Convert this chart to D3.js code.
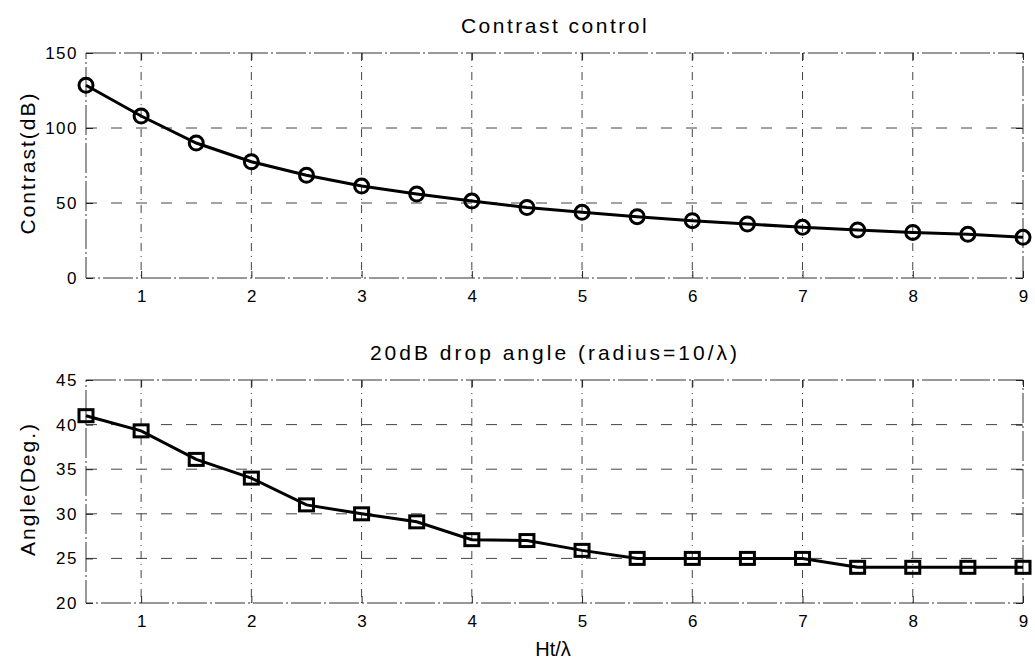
<!DOCTYPE html>
<html>
<head>
<meta charset="utf-8">
<script src="https://cdn.jsdelivr.net/npm/d3@7"></script>
<style>
  body { margin: 0; background: #fff; }
  svg { font-family: Arial, "Liberation Sans", sans-serif; }
</style>
</head>
<body>
<svg id="chart" width="1035" height="661"></svg>
<script>
"use strict";

const xs = [0.5, 1, 1.5, 2, 2.5, 3, 3.5, 4, 4.5, 5, 5.5, 6, 6.5, 7, 7.5, 8, 8.5, 9];
const contrast = [128.5, 108, 90, 77.5, 68.5, 61.3, 56, 51.3, 47, 43.8, 40.9, 38.2, 36, 33.8, 32, 30.4, 29.1, 27.1];
const angle = [41, 39.3, 36.1, 34, 31, 30, 29.1, 27.1, 27, 25.9, 25, 25, 25, 25, 24, 24, 24, 24];
const xTicks = [1, 2, 3, 4, 5, 6, 7, 8, 9];
const contrastTicks = [0, 50, 100, 150];
const angleTicks = [20, 25, 30, 35, 40, 45];

const svg = d3.select("#chart");
const left = 86, right = 1023;

const x = d3.scaleLinear().domain([0.5, 9]).range([left, right]);

function styleAxis(a) {
    a.select(".domain").remove();
    a.selectAll("line").attr("stroke", "#222");
    a.selectAll("text")
        .attr("font-size", 17).attr("fill", "#000")
        .attr("letter-spacing", 1.5);
}

function panel(opts) {
    const y = d3.scaleLinear().domain(opts.domain).range([opts.bottom, opts.top]);
    const g = svg.append("g");

    // grid
    g.selectAll(".gx").data(xTicks.slice(0, -1)).enter().append("line")
        .attr("x1", d => x(d)).attr("x2", d => x(d))
        .attr("y1", opts.top).attr("y2", opts.bottom)
        .attr("stroke", "#444").attr("stroke-width", 1)
        .attr("stroke-dasharray", "8,5,1,5");
    g.selectAll(".gy").data(opts.ticks.slice(1, -1)).enter().append("line")
        .attr("x1", left).attr("x2", right)
        .attr("y1", d => y(d)).attr("y2", d => y(d))
        .attr("stroke", "#444").attr("stroke-width", 1)
        .attr("stroke-dasharray", "11,14");

    // box
    g.append("rect")
        .attr("x", left).attr("y", opts.top)
        .attr("width", right - left).attr("height", opts.bottom - opts.top)
        .attr("fill", "none").attr("stroke", "#333").attr("stroke-width", 1)
        .attr("stroke-dasharray", "30,3,2,3");

    // axes, ticks pointing inward like matlab
    const xa = g.append("g").attr("transform", `translate(0,${opts.bottom})`)
        .call(d3.axisBottom(x).tickValues(xTicks).tickSizeInner(-7).tickSizeOuter(0).tickPadding(12));
    const xt = g.append("g").attr("transform", `translate(0,${opts.top})`)
        .call(d3.axisTop(x).tickValues(xTicks).tickSizeInner(-7).tickSizeOuter(0).tickFormat(""));
    const ya = g.append("g").attr("transform", `translate(${left},0)`)
        .call(d3.axisLeft(y).tickValues(opts.ticks).tickSizeInner(-7).tickSizeOuter(0).tickPadding(8));
    const yr = g.append("g").attr("transform", `translate(${right},0)`)
        .call(d3.axisRight(y).tickValues(opts.ticks).tickSizeInner(-7).tickSizeOuter(0).tickFormat(""));
    [xa, xt, ya, yr].forEach(styleAxis);
    xa.selectAll("text").attr("dx", "0.75");

    // title
    g.append("text")
        .attr("x", opts.titleX).attr("y", opts.top - 20)
        .attr("text-anchor", "middle").attr("font-size", 21).attr("fill", "#000")
        .attr("letter-spacing", opts.titleSpacing)
        .text(opts.title);

    // y label
    g.append("text")
        .attr("transform", `translate(35,${opts.labelY}) rotate(-90)`)
        .attr("text-anchor", "middle").attr("font-size", 21).attr("fill", "#000")
        .attr("letter-spacing", 2)
        .text(opts.ylabel);

    const line = d3.line().x((d, i) => x(xs[i])).y(d => y(d));
    g.append("path").datum(opts.values)
        .attr("d", line).attr("fill", "none")
        .attr("stroke", "#000").attr("stroke-width", 3);

    if (opts.marker === "circle") {
        g.selectAll(".m").data(opts.values).enter().append("circle")
            .attr("cx", (d, i) => x(xs[i])).attr("cy", d => y(d))
            .attr("r", 7).attr("fill", "none")
            .attr("stroke", "#000").attr("stroke-width", 3);
    } else {
        g.selectAll(".m").data(opts.values).enter().append("rect")
            .attr("x", (d, i) => x(xs[i]) - 7).attr("y", d => y(d) - 6)
            .attr("width", 14).attr("height", 12).attr("fill", "none")
            .attr("stroke", "#000").attr("stroke-width", 3);
    }
}

panel({
    top: 53, bottom: 278, domain: [0, 150], ticks: contrastTicks,
    values: contrast, title: "Contrast control", titleX: 555, titleSpacing: 2.5,
    ylabel: "Contrast(dB)", labelY: 163, marker: "circle"
});
panel({
    top: 380, bottom: 603, domain: [20, 45], ticks: angleTicks,
    values: angle, title: "20dB drop angle (radius=10/λ)", titleX: 555, titleSpacing: 3,
    ylabel: "Angle(Deg.)", labelY: 489, marker: "square"
});

svg.append("text")
    .attr("x", 553).attr("y", 656)
    .attr("text-anchor", "middle").attr("font-size", 20).attr("fill", "#000")
    .text("Ht/λ");
</script>
</body>
</html>
